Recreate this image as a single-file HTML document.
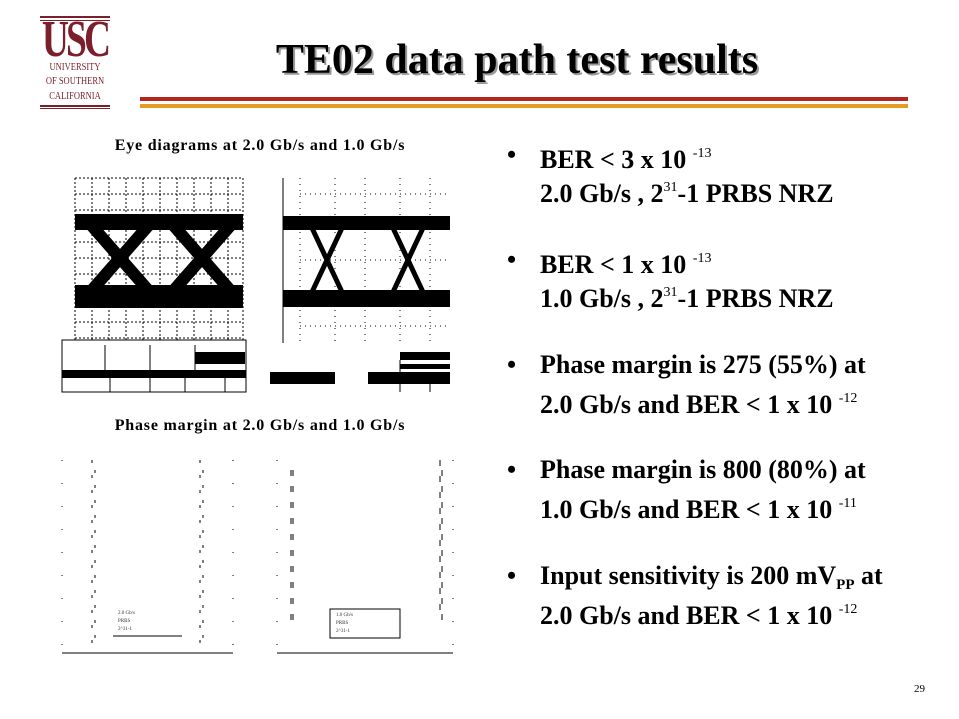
<!DOCTYPE html>
<html><head><meta charset="utf-8"><style>
body{margin:0;width:959px;height:719px;background:#fff;position:relative;overflow:hidden;font-family:"Liberation Serif",serif}
.a{position:absolute;white-space:nowrap}
.b{font-weight:bold;font-size:26px;line-height:30px;color:#000}
sup{font-size:14px;vertical-align:11px;font-weight:normal}
sub{font-size:15px;vertical-align:-5px}
.m{color:#7a1f2b}
</style></head><body>
<div class="a" style="left:40px;top:16px;width:70px;height:2px;background:#7a1f2b"></div>
<div class="a" style="left:40px;top:20px;width:70px;height:1px;background:#7a1f2b"></div>
<div class="a m" style="left:25px;top:17px;width:100px;text-align:center;font-size:52px;line-height:46px;font-weight:bold;letter-spacing:-4px;transform:scaleX(0.72)">USC</div>
<div class="a m" style="left:35px;top:62px;width:80px;text-align:center;font-size:10px;transform:scaleX(0.85)">UNIVERSITY</div>
<div class="a m" style="left:30px;top:76px;width:90px;text-align:center;font-size:10px;transform:scaleX(0.85)">OF SOUTHERN</div>
<div class="a m" style="left:35px;top:91px;width:80px;text-align:center;font-size:10px;transform:scaleX(0.85)">CALIFORNIA</div>
<div class="a" style="left:40px;top:105px;width:70px;height:2px;background:#7a1f2b"></div>
<div class="a" style="left:40px;top:108px;width:70px;height:1px;background:#7a1f2b"></div>
<div class="a" style="left:140px;top:97px;width:768px;height:4px;background:#b3261e"></div>
<div class="a" style="left:140px;top:104px;width:768px;height:4px;background:#e89a22"></div>
<div class="a" style="left:200px;top:36px;width:634px;text-align:center;font-size:42px;font-weight:bold;text-shadow:2px 2px 0 #999">TE02 data path test results</div>

<div class="a" style="left:60px;top:137px;width:400px;text-align:center;font-size:16px;letter-spacing:0.8px;font-weight:bold">Eye diagrams at 2.0 Gb/s and 1.0 Gb/s</div>
<div class="a" style="left:60px;top:417px;width:400px;text-align:center;font-size:16px;letter-spacing:0.8px;font-weight:bold">Phase margin at 2.0 Gb/s and 1.0 Gb/s</div>

<svg class="a" style="left:0;top:0" width="959" height="719">
<g stroke="#000" stroke-dasharray="2 2" stroke-width="1">
<path d="M75 178V340M92 178V340M109 178V340M126 178V340M143 178V340M160 178V340M177 178V340M194 178V340M211 178V340M228 178V340M243 178V340"/>
<path d="M75 178H243M75 194H243M75 210H243M75 226H243M75 242H243M75 258H243M75 274H243M75 290H243M75 306H243M75 322H243M75 338H243"/>
<path d="M300 194H450M300 227H450M300 260H450M300 293H450M300 326H450" stroke-dasharray="1 4"/>
<path d="M300 178V343M335 178V343M365 178V343M400 178V343M430 178V343" stroke-dasharray="1 5"/>
</g>
<rect x="75" y="214" width="168" height="16" fill="#000"/>
<rect x="75" y="285" width="168" height="23" fill="#000"/>
<path d="M92 226 L148 290 M92 290 L148 226 M174 226 L230 290 M174 290 L230 226" stroke="#000" stroke-width="12"/>
<rect x="62" y="340" width="184" height="52" fill="none" stroke="#000"/>
<rect x="62" y="370" width="184" height="8" fill="#000"/>
<rect x="195" y="352" width="50" height="12" fill="#000"/>
<path d="M105 345V370M150 345V370M195 345V370M110 378V392M150 378V392M185 378V392M225 378V392" stroke="#000"/>
<path d="M283 178V343" stroke="#000"/>
<rect x="283" y="216" width="167" height="14" fill="#000"/>
<rect x="283" y="290" width="167" height="17" fill="#000"/>
<path d="M312 228 L342 292 M312 292 L342 228 M393 228 L423 292 M393 292 L423 228" stroke="#000" stroke-width="5"/>
<rect x="270" y="372" width="65" height="12" fill="#000"/>
<rect x="368" y="372" width="82" height="12" fill="#000"/>
<rect x="400" y="352" width="50" height="8" fill="#000"/>
<rect x="400" y="364" width="50" height="5" fill="#000"/>
<path d="M400 360V392M430 384V392" stroke="#000"/>

<g stroke="#000" fill="none">
<path d="M62 653H233M277 653H453"/>
<path d="M113 636H182"/>
<rect x="330" y="609" width="70" height="29"/>
<path d="M92 460V650M95 470V640M200 460V650M203 470V640" stroke-dasharray="3 12"/>
<path d="M291 470V620M293 470V630M440 460V620M442 470V630" stroke-dasharray="6 10"/>
<path d="M62 460V650M233 460V650M277 460V650M453 460V650" stroke-dasharray="1 22"/>
</g>
</svg>
<div class="a" style="left:118px;top:610px;font-size:5px;line-height:8px;color:#333">2.0 Gb/s<br>PRBS<br>2^31-1</div>
<div class="a" style="left:336px;top:612px;font-size:5px;line-height:8px;color:#333">1.0 Gb/s<br>PRBS<br>2^31-1</div>

<div class="a b" style="left:507px;top:140px">•</div>
<div class="a b" style="left:540px;top:139px">BER &lt; 3 x 10 <sup>-13</sup></div>
<div class="a b" style="left:540px;top:173px">2.0 Gb/s , 2<sup>31</sup>-1 PRBS NRZ</div>
<div class="a b" style="left:507px;top:245px">•</div>
<div class="a b" style="left:540px;top:244px">BER &lt; 1 x 10 <sup>-13</sup></div>
<div class="a b" style="left:540px;top:278px">1.0 Gb/s , 2<sup>31</sup>-1 PRBS NRZ</div>
<div class="a b" style="left:507px;top:350px">•</div>
<div class="a b" style="left:540px;top:350px">Phase margin is 275 (55%) at</div>
<div class="a b" style="left:540px;top:384px">2.0 Gb/s and BER &lt; 1 x 10 <sup>-12</sup></div>
<div class="a b" style="left:507px;top:455px">•</div>
<div class="a b" style="left:540px;top:455px">Phase margin is 800 (80%) at</div>
<div class="a b" style="left:540px;top:489px">1.0 Gb/s and BER &lt; 1 x 10 <sup>-11</sup></div>
<div class="a b" style="left:507px;top:561px">•</div>
<div class="a b" style="left:540px;top:561px">Input sensitivity is 200 mV<sub>PP</sub> at</div>
<div class="a b" style="left:540px;top:595px">2.0 Gb/s and BER &lt; 1 x 10 <sup>-12</sup></div>
<div class="a" style="left:914px;top:683px;font-size:11px">29</div>
</body></html>
